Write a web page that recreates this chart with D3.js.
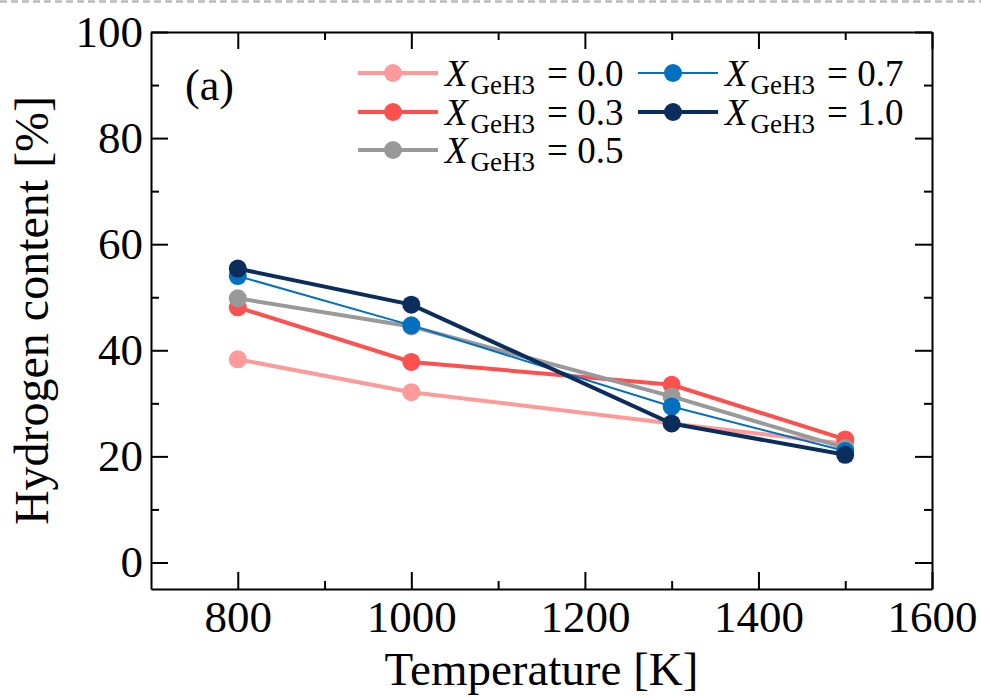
<!DOCTYPE html>
<html>
<head>
<meta charset="utf-8">
<script src="https://cdn.jsdelivr.net/npm/d3@7"></script>
<style>
  body { margin: 0; background: #fff; }
  svg { display: block; font-family: "Liberation Serif", "Times New Roman", serif; }
  .axis text { font-family: "Liberation Serif", "Times New Roman", serif; font-size: 45px; fill: #000; }
  .axis path, .axis line { stroke: #000; stroke-width: 2; }
</style>
</head>
<body>
<div id="chart"></div>
<script>
// temperatures [K] and hydrogen content [%] for each GeH3 fraction
var temperatures = [800, 1000, 1300, 1500];
var fractions = ["0.0", "0.3", "0.5", "0.7", "1.0"];
var h_x00 = [38.3, 32.1, 26.2, 22.4];
var h_x03 = [48.1, 37.8, 33.5, 23.2];
var h_x05 = [49.8, 44.5, 31.3, 21.6];
var h_x07 = [54.0, 44.7, 29.4, 21.0];
var h_x10 = [55.4, 48.6, 26.2, 20.3];
var xMajor = [800, 1000, 1200, 1400, 1600];
var xMinor = [900, 1100, 1300, 1500];
var yMajor = [0, 20, 40, 60, 80, 100];
var yMinor = [10, 30, 50, 70, 90];

var colors = ["#ff9a9a", "#ff5050", "#999999", "#0070c0", "#0b2d5c"];
var widths = [4, 4, 4, 2, 4];

var series = [h_x00, h_x03, h_x05, h_x07, h_x10].map(function(vals, i) {
  return {
    frac: fractions[i], color: colors[i], width: widths[i],
    points: vals.map(function(v, j) { return {t: temperatures[j], h: v}; })
  };
});

var W = 981, H = 697;
var margin = {left: 151, right: 49, top: 32, bottom: 108};

var svg = d3.select("#chart").append("svg")
  .attr("width", W).attr("height", H);

// dashed separator across the top
svg.append("line")
  .attr("x1", 0).attr("x2", W).attr("y1", 1.5).attr("y2", 1.5)
  .attr("stroke", "#bbb").attr("stroke-width", 2.5)
  .attr("stroke-dasharray", "7,4");

var x = d3.scaleLinear().domain([700, 1600]).range([margin.left, W - margin.right]);
var y = d3.scaleLinear().domain([-5, 100]).range([H - margin.bottom, margin.top]);

var x0 = x.range()[0], x1 = x.range()[1], y0 = y.range()[0], y1 = y.range()[1];

function addAxis(gen, tx, ty, labels) {
  var g = svg.append("g").attr("class", "axis")
    .attr("transform", "translate(" + tx + "," + ty + ")")
    .call(gen);
  g.attr("font-family", null).attr("font-size", null);
  if (!labels) g.selectAll("text").remove();
  return g;
}

// major ticks (inward) with labels on bottom/left
addAxis(d3.axisBottom(x).tickValues(xMajor).tickSizeInner(-17).tickSizeOuter(0).tickPadding(11).tickFormat(d3.format("d")), 0, y0, true);
addAxis(d3.axisTop(x).tickValues(xMajor).tickSizeInner(-17).tickSizeOuter(0), 0, y1, false);
addAxis(d3.axisLeft(y).tickValues(yMajor).tickSizeInner(-17).tickSizeOuter(0).tickPadding(8).tickFormat(d3.format("d")), x0, 0, true);
addAxis(d3.axisRight(y).tickValues(yMajor).tickSizeInner(-17).tickSizeOuter(0), x1, 0, false);

// minor ticks
[addAxis(d3.axisBottom(x).tickValues(xMinor).tickSizeInner(-8).tickSizeOuter(0), 0, y0, false),
 addAxis(d3.axisTop(x).tickValues(xMinor).tickSizeInner(-8).tickSizeOuter(0), 0, y1, false),
 addAxis(d3.axisLeft(y).tickValues(yMinor).tickSizeInner(-8).tickSizeOuter(0), x0, 0, false),
 addAxis(d3.axisRight(y).tickValues(yMinor).tickSizeInner(-8).tickSizeOuter(0), x1, 0, false)
].forEach(function(g) { g.select(".domain").remove(); });

// axis titles
svg.append("text")
  .attr("x", (x0 + x1) / 2).attr("y", 685)
  .attr("text-anchor", "middle").style("font-size", "47px")
  .text("Temperature [K]");

svg.append("text")
  .attr("transform", "translate(48," + ((y0 + y1) / 2) + ") rotate(-90)")
  .attr("text-anchor", "middle").style("font-size", "48px")
  .text("Hydrogen content [%]");

svg.append("text")
  .attr("x", 185).attr("y", 100)
  .style("font-size", "44px")
  .text("(a)");

// series lines and markers
var line = d3.line().x(function(d) { return x(d.t); }).y(function(d) { return y(d.h); });

var gs = svg.selectAll(".series").data(series).enter()
  .append("g").attr("class", "series");

gs.append("path")
  .attr("d", function(d) { return line(d.points); })
  .attr("fill", "none")
  .attr("stroke", function(d) { return d.color; })
  .attr("stroke-width", function(d) { return d.width; });

gs.selectAll("circle").data(function(d) { return d.points.map(function(p) { return {p: p, c: d.color}; }); })
  .enter().append("circle")
  .attr("cx", function(d) { return x(d.p.t); })
  .attr("cy", function(d) { return y(d.p.h); })
  .attr("r", 9)
  .attr("fill", function(d) { return d.c; });

// legend, two columns
var legendPos = [[358, 73], [358, 112], [358, 150], [638, 73], [638, 112]];

var lg = svg.selectAll(".legend").data(series).enter()
  .append("g").attr("class", "legend")
  .attr("transform", function(d, i) { return "translate(" + legendPos[i][0] + "," + legendPos[i][1] + ")"; });

lg.append("line")
  .attr("x1", 0).attr("x2", 80).attr("y1", 0).attr("y2", 0)
  .attr("stroke", function(d) { return d.color; })
  .attr("stroke-width", function(d) { return d.width; });

lg.append("circle")
  .attr("cx", 35).attr("cy", 0).attr("r", 9)
  .attr("fill", function(d) { return d.color; });

var lt = lg.append("text")
  .attr("x", 87).attr("y", 13)
  .style("font-size", "37px");
lt.append("tspan").style("font-style", "italic").text("X");
lt.append("tspan").attr("dx", 3).attr("dy", 8).style("font-size", "27px").text("GeH3");
lt.append("tspan").attr("dx", 12).attr("dy", -8).text(function(d) { return "= " + d.frac; });
</script>
</body>
</html>
